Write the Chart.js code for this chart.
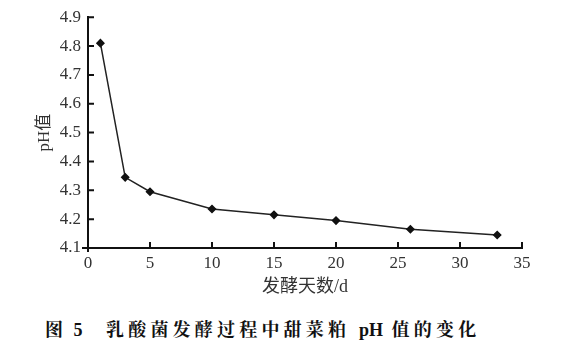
<!DOCTYPE html>
<html><head><meta charset="utf-8">
<script src="https://cdn.jsdelivr.net/npm/chart.js@4.4.1/dist/chart.umd.min.js"></script>
<style>
html,body{margin:0;padding:0;background:#fff;width:563px;height:358px;overflow:hidden;}
#wrap{position:absolute;left:0;top:0;width:563px;height:300px;}
.cap{position:absolute;top:317px;font-family:'Noto Serif CJK SC','Noto Sans CJK SC',serif;font-weight:700;font-size:18px;color:#111;white-space:pre;line-height:22px;}
.lat{font-family:'Times New Roman','Liberation Serif',serif;letter-spacing:0;}
</style></head><body>
<div id="wrap"><canvas id="c"></canvas></div>
<div class="cap" style="left:45px;letter-spacing:3px;">图 <span class="lat">5</span></div>
<div class="cap" style="left:106px;letter-spacing:4.2px;">乳酸菌发酵过程中甜菜粕 <span class="lat">pH</span> 值的变化</div>
<script>
const days = [1, 3, 5, 10, 15, 20, 26, 33];
const phValues = [4.81, 4.345, 4.295, 4.235, 4.215, 4.195, 4.165, 4.145];
const xTicks = [0, 5, 10, 15, 20, 25, 30, 35];
const yTicks = [4.1, 4.2, 4.3, 4.4, 4.5, 4.6, 4.7, 4.8, 4.9];
const xTitle = '发酵天数/d';
const yTitle = 'pH值';

const serif = "'Times New Roman', 'Liberation Serif', 'Noto Sans CJK SC', serif";

const innerTicks = {
  id: 'innerTicks',
  afterDraw(chart) {
    const ctx = chart.ctx, x = chart.scales.x, y = chart.scales.y;
    ctx.save();
    ctx.strokeStyle = '#111'; ctx.lineWidth = 2;
    ctx.beginPath();
    x.ticks.forEach(t => { const px = x.getPixelForValue(t.value); ctx.moveTo(px, x.top); ctx.lineTo(px, x.top - 6); });
    y.ticks.forEach(t => { const py = y.getPixelForValue(t.value); ctx.moveTo(y.right, py); ctx.lineTo(y.right + 6, py); });
    const by = y.getPixelForValue(yTicks[0]);
    ctx.moveTo(y.right - 6, by); ctx.lineTo(y.right, by);
    ctx.moveTo(y.right, by); ctx.lineTo(y.right, by + 4);
    ctx.stroke();
    ctx.restore();
  }
};

new Chart(document.getElementById('c'), {
  type: 'line',
  data: { datasets: [{
    data: days.map((d, i) => ({x: d, y: phValues[i]})),
    borderColor: '#222', borderWidth: 1.5,
    pointStyle: 'rectRot', pointRadius: 3.5, pointBackgroundColor: '#111', pointBorderColor: '#111',
    tension: 0
  }]},
  options: {
    responsive: true, maintainAspectRatio: false, animation: false,
    layout: { padding: { top: 15, right: 41, left: 0, bottom: 0 } },
    plugins: { legend: { display: false }, tooltip: { enabled: false } },
    scales: {
      x: {
        type: 'linear', min: 0, max: 35,
        afterBuildTicks: s => { s.ticks = xTicks.map(v => ({value: v})); },
        afterFit: s => { s.height = 52; },
        grid: { drawOnChartArea: false, drawTicks: false },
        border: { color: '#111', width: 2 },
        ticks: { padding: 5, color: '#333', font: { family: serif, size: 17 } },
        title: { display: true, text: xTitle, color: '#333', padding: { top: 0, bottom: 2 },
          font: { family: serif, size: 18 } }
      },
      y: {
        type: 'linear', min: 4.1, max: 4.9,
        afterBuildTicks: s => { s.ticks = yTicks.map(v => ({value: v})); },
        afterFit: s => { s.width = 88; },
        grid: { drawOnChartArea: false, drawTicks: false },
        border: { color: '#111', width: 2 },
        ticks: { padding: 7, color: '#333', font: { family: serif, size: 17 },
          callback: v => v.toFixed(1) },
        title: { display: true, text: yTitle, color: '#333', padding: { top: 34, bottom: 0 },
          font: { family: serif, size: 17 } }
      }
    }
  },
  plugins: [innerTicks]
});
</script>
</body></html>
